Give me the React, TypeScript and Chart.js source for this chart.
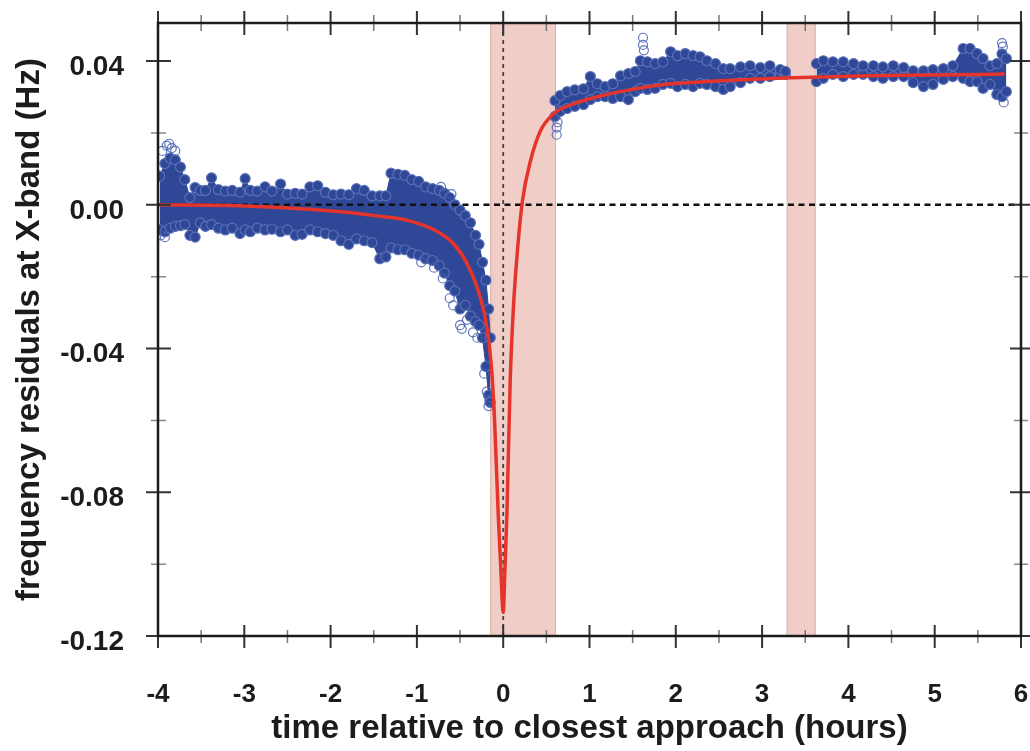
import { useEffect, useRef } from "react";
import { Chart, registerables } from "chart.js";

Chart.register(...registerables);

// ---------- data (hours, Hz) ----------
const preX = [-3.98, -3.92, -3.86, -3.8, -3.74, -3.69, -3.63, -3.57, -3.51, -3.45, -3.38, -3.3, -3.22, -3.14, -3.05, -2.99, -2.93, -2.85, -2.76, -2.68, -2.58, -2.5, -2.41, -2.33, -2.24, -2.15, -2.06, -1.97, -1.88, -1.79, -1.7, -1.61, -1.52, -1.43, -1.36, -1.3, -1.22, -1.14, -1.06, -0.98, -0.9, -0.82, -0.74, -0.68, -0.62, -0.56, -0.5, -0.44, -0.38, -0.32, -0.28, -0.24, -0.2, -0.17, -0.15];
const preHi = [0.008, 0.0115, 0.013, 0.0125, 0.0105, 0.007, 0.002, 0.0048, 0.004, 0.004, 0.0075, 0.0042, 0.0038, 0.004, 0.0035, 0.0073, 0.004, 0.0038, 0.005, 0.0038, 0.0058, 0.003, 0.0032, 0.003, 0.005, 0.0053, 0.0035, 0.0028, 0.003, 0.0028, 0.0045, 0.004, 0.0025, 0.0025, 0.0025, 0.0088, 0.0085, 0.0082, 0.007, 0.0065, 0.005, 0.0045, 0.004, 0.0032, 0.002, 0.0, -0.0015, -0.003, -0.005, -0.0085, -0.011, -0.016, -0.021, -0.029, -0.037];
const preLo = [-0.007, -0.0075, -0.0065, -0.006, -0.0058, -0.0055, -0.0085, -0.009, -0.005, -0.006, -0.0055, -0.0065, -0.007, -0.0065, -0.008, -0.007, -0.0075, -0.0065, -0.007, -0.0068, -0.0075, -0.007, -0.0085, -0.0082, -0.007, -0.0075, -0.008, -0.0085, -0.01, -0.011, -0.0095, -0.01, -0.0105, -0.015, -0.0145, -0.012, -0.0125, -0.0125, -0.0135, -0.014, -0.015, -0.0155, -0.017, -0.019, -0.0225, -0.024, -0.029, -0.028, -0.031, -0.0325, -0.0335, -0.037, -0.045, -0.053, -0.055];

const postAX = [0.6, 0.66, 0.74, 0.83, 0.93, 1.01, 1.09, 1.18, 1.27, 1.36, 1.45, 1.53, 1.59, 1.67, 1.76, 1.85, 1.94, 2.02, 2.11, 2.2, 2.28, 2.36, 2.46, 2.55, 2.63, 2.75, 2.86, 2.98, 3.09, 3.21, 3.27];
const postAHi = [0.029, 0.0304, 0.0315, 0.032, 0.0323, 0.0357, 0.0337, 0.0329, 0.0337, 0.0359, 0.0365, 0.0371, 0.0401, 0.0398, 0.0393, 0.0398, 0.0426, 0.0415, 0.0421, 0.0415, 0.0412, 0.0401, 0.0393, 0.0379, 0.0379, 0.0384, 0.0387, 0.0382, 0.0387, 0.0376, 0.0371];
const postALo = [0.0246, 0.026, 0.0268, 0.0274, 0.0279, 0.0293, 0.0301, 0.0301, 0.0296, 0.0301, 0.0293, 0.0315, 0.0324, 0.0321, 0.0324, 0.0335, 0.0338, 0.0329, 0.0335, 0.0329, 0.0338, 0.0335, 0.0329, 0.0321, 0.0329, 0.034, 0.0352, 0.0352, 0.0357, 0.0363, 0.0363];

const postBX = [3.63, 3.71, 3.82, 3.94, 4.06, 4.17, 4.29, 4.4, 4.52, 4.64, 4.75, 4.87, 4.98, 5.1, 5.21, 5.33, 5.41, 5.49, 5.56, 5.64, 5.72, 5.78, 5.83];
const postBHi = [0.0393, 0.0401, 0.0398, 0.0398, 0.0393, 0.0387, 0.0387, 0.0384, 0.0387, 0.0382, 0.0373, 0.0373, 0.0376, 0.0379, 0.0387, 0.0435, 0.0435, 0.0421, 0.0407, 0.0387, 0.0393, 0.042, 0.0407];
const postBLo = [0.0343, 0.0352, 0.0363, 0.0357, 0.0363, 0.0363, 0.0357, 0.0352, 0.0357, 0.0357, 0.034, 0.0329, 0.0335, 0.0349, 0.0357, 0.0352, 0.0343, 0.0343, 0.0324, 0.0335, 0.0307, 0.0301, 0.0315];

const outlierX = [-3.95, -3.9, -3.87, -3.84, -3.8, -3.92, -3.97, -0.95, -0.8, -0.72, -0.7, -0.62, -0.6, -0.58, -0.5, -0.48, -0.42, -0.35, -0.3, -0.22, -0.19, -0.17, -0.16, 0.62, 0.62, 0.63, 1.62, 1.62, 1.63, 5.78, 5.79, 5.8];
const outlierY = [0.015, 0.0165, 0.017, 0.0158, 0.015, -0.009, -0.0085, -0.016, -0.0175, 0.005, -0.0205, -0.026, 0.003, -0.028, -0.0335, -0.0345, -0.032, -0.0355, -0.037, -0.047, -0.052, -0.056, -0.0545, 0.0215, 0.0195, 0.023, 0.0445, 0.0465, 0.043, 0.045, 0.044, 0.0285];

const curveX = [-4, -3, -2.35, -1.85, -1.39, -1.19, -0.96, -0.73, -0.58, -0.42, -0.264, -0.183, -0.131, -0.1, -0.058, -0.028, 0, 0.022, 0.043, 0.081, 0.12, 0.165, 0.223, 0.316, 0.432, 0.583, 0.815, 1.13, 1.51, 1.91, 2.29, 2.64, 3.25, 4.22, 4.99, 5.81];
const curveY = [0, -0.0003, -0.0011, -0.002, -0.0033, -0.0039, -0.0054, -0.0079, -0.0107, -0.0163, -0.0259, -0.035, -0.047, -0.06, -0.086, -0.101, -0.1134, -0.1, -0.086, -0.049, -0.028, -0.0128, 0.0011, 0.0122, 0.0206, 0.0253, 0.0281, 0.0303, 0.0322, 0.0336, 0.0342, 0.0347, 0.0353, 0.0359, 0.0361, 0.0364];

const shadeStart = [-0.15, 3.285];
const shadeEnd = [0.612, 3.62];

const xRange = [-4, 6];
const yRange = [-0.12, 0.0506];

const xTitle = "time relative to closest approach (hours)";
const yTitle = "frequency residuals at X-band (Hz)";

// ---------- styles ----------
const FAMILY = "'Liberation Sans', Arial, Helvetica, sans-serif";
const BLUE = "#2e4796";
const BLUE_EDGE = "#5a70b8";
const RED = "#e5342b";
const SHADE = "rgba(240, 200, 194, 0.9)";
const SHADE_EDGE = "rgba(215, 170, 165, 0.9)";
const INK = "#1c1c1c";

const pts = (xs: number[], ys: number[]) => xs.map((x, i) => ({ x, y: ys[i] }));

function bandSets(xs: number[], hi: number[], lo: number[], name: string) {
  const common = {
    type: "line" as const,
    borderColor: BLUE,
    borderWidth: 1,
    pointRadius: 5,
    pointBackgroundColor: BLUE,
    pointBorderColor: BLUE_EDGE,
    pointBorderWidth: 1.2,
    tension: 0,
    order: 4,
  };
  return [
    { ...common, label: name + " upper", data: pts(xs, hi), fill: false },
    { ...common, label: name + " lower", data: pts(xs, lo), fill: "-1", backgroundColor: BLUE },
  ];
}

const isMultiple = (v: number, step: number) => Math.abs(v / step - Math.round(v / step)) < 1e-6;

const noPad = (s: any) => {
  s.paddingTop = 0;
  s.paddingBottom = 0;
  s.paddingLeft = 0;
  s.paddingRight = 0;
};

const shadePlugin = {
  id: "shade",
  beforeDatasetsDraw(chart: any) {
    const { ctx, chartArea, scales } = chart;
    const x = scales.x;
    ctx.save();
    shadeStart.forEach((s, i) => {
      const x0 = x.getPixelForValue(s);
      const x1 = x.getPixelForValue(shadeEnd[i]);
      ctx.fillStyle = SHADE;
      ctx.fillRect(x0, chartArea.top, x1 - x0, chartArea.bottom - chartArea.top);
      ctx.strokeStyle = SHADE_EDGE;
      ctx.lineWidth = 1;
      ctx.strokeRect(x0 + 0.5, chartArea.top, x1 - x0 - 1, chartArea.bottom - chartArea.top);
    });
    ctx.restore();
  },
};

const framePlugin = {
  id: "frame",
  afterDraw(chart: any) {
    const { ctx, chartArea, scales } = chart;
    const { left, right, top, bottom } = chartArea;
    ctx.save();
    ctx.lineCap = "butt";
    scales.x.ticks.forEach((t: any) => {
      const px = scales.x.getPixelForValue(t.value);
      const major = isMultiple(t.value, 1);
      ctx.strokeStyle = major ? "#333" : "#777";
      ctx.lineWidth = major ? 2 : 1.5;
      ctx.beginPath();
      ctx.moveTo(px, bottom - (major ? 11 : 6));
      ctx.lineTo(px, bottom + (major ? 12 : 7));
      ctx.moveTo(px, top - (major ? 12 : 8));
      ctx.lineTo(px, top + (major ? 12 : 8));
      ctx.stroke();
    });
    scales.y.ticks.forEach((t: any) => {
      const py = scales.y.getPixelForValue(t.value);
      const major = isMultiple(t.value, 0.04);
      ctx.strokeStyle = major ? "#333" : "#888";
      ctx.lineWidth = major ? 2 : 1.5;
      ctx.beginPath();
      ctx.moveTo(left - (major ? 12 : 7), py);
      ctx.lineTo(left + (major ? 13 : 8), py);
      ctx.moveTo(right - (major ? 11 : 7), py);
      ctx.lineTo(right + (major ? 10 : 7), py);
      ctx.stroke();
    });
    ctx.strokeStyle = INK;
    ctx.lineWidth = 2.5;
    ctx.strokeRect(left, top, right - left, bottom - top);
    ctx.restore();
  },
};

export default function App() {
  const ref = useRef<HTMLCanvasElement | null>(null);

  useEffect(() => {
    if (!ref.current) return;
    Chart.defaults.font.family = FAMILY;
    const datasets: any[] = [
      {
        type: "line",
        label: "model",
        data: pts(curveX, curveY),
        borderColor: RED,
        borderWidth: 3.5,
        pointRadius: 0,
        cubicInterpolationMode: "monotone",
        fill: false,
        order: 0,
      },
      {
        type: "line",
        label: "zero",
        data: pts(xRange, [0, 0]),
        borderColor: "#111",
        borderWidth: 2.6,
        borderDash: [6, 4.5],
        pointRadius: 0,
        fill: false,
        order: 1,
      },
      {
        type: "line",
        label: "closest approach",
        data: pts([0, 0], yRange),
        borderColor: "#444",
        borderWidth: 1.8,
        borderDash: [4, 4],
        pointRadius: 0,
        fill: false,
        order: 1,
      },
      {
        type: "scatter",
        label: "outliers",
        data: pts(outlierX, outlierY),
        pointRadius: 4.5,
        pointBackgroundColor: "rgba(255,255,255,0)",
        pointBorderColor: "rgba(70, 95, 178, 0.85)",
        pointBorderWidth: 1.2,
        showLine: false,
        order: 3,
      },
      ...bandSets(preX, preHi, preLo, "pre"),
      ...bandSets(postAX, postAHi, postALo, "postA"),
      ...bandSets(postBX, postBHi, postBLo, "postB"),
    ];

    const chart = new Chart(ref.current, {
      type: "line",
      data: { datasets },
      options: {
        animation: false,
        responsive: false,
        maintainAspectRatio: false,
        layout: { padding: { top: 23, right: 9, left: 0, bottom: 0 } },
        plugins: { legend: { display: false }, tooltip: { enabled: false } },
        scales: {
          x: {
            type: "linear",
            min: xRange[0],
            max: xRange[1],
            grid: { display: false, drawTicks: false },
            border: { display: false },
            ticks: {
              stepSize: 0.5,
              autoSkip: false,
              maxRotation: 0,
              includeBounds: false,
              padding: 43,
              color: INK,
              font: { size: 26, weight: "bold", family: FAMILY },
              callback: (v: any) => (isMultiple(Number(v), 1) ? String(Math.round(Number(v))) : ""),
            },
            title: {
              display: true,
              text: xTitle,
              color: INK,
              font: { size: 33, weight: "bold", family: FAMILY },
              padding: { top: 0, bottom: 2 },
            },
            afterFit: (s: any) => {
              s.height = 115;
              noPad(s);
            },
          },
          y: {
            type: "linear",
            min: yRange[0],
            max: yRange[1],
            grid: { display: false, drawTicks: false },
            border: { display: false },
            ticks: {
              stepSize: 0.02,
              autoSkip: false,
              includeBounds: false,
              padding: 34,
              labelOffset: 6,
              color: INK,
              font: { size: 28, weight: "bold", family: FAMILY },
              callback: (v: any) => {
                const n = Number(v);
                if (!isMultiple(n, 0.04)) return "";
                const r = Math.round(n * 100) / 100;
                return (r === 0 ? 0 : r).toFixed(2);
              },
            },
            title: {
              display: true,
              text: yTitle,
              color: INK,
              font: { size: 33, weight: "bold", family: FAMILY },
              padding: { top: 10, bottom: 0 },
            },
            afterFit: (s: any) => {
              s.width = 158;
              noPad(s);
            },
          },
        },
      } as any,
      plugins: [shadePlugin, framePlugin],
    });
    return () => chart.destroy();
  }, []);

  return (
    <div style={{ position: "absolute", left: 0, top: 0, width: 1030, height: 751, background: "#fff" }}>
      <canvas ref={ref} width={1030} height={751} style={{ width: 1030, height: 751, display: "block" }} />
    </div>
  );
}
